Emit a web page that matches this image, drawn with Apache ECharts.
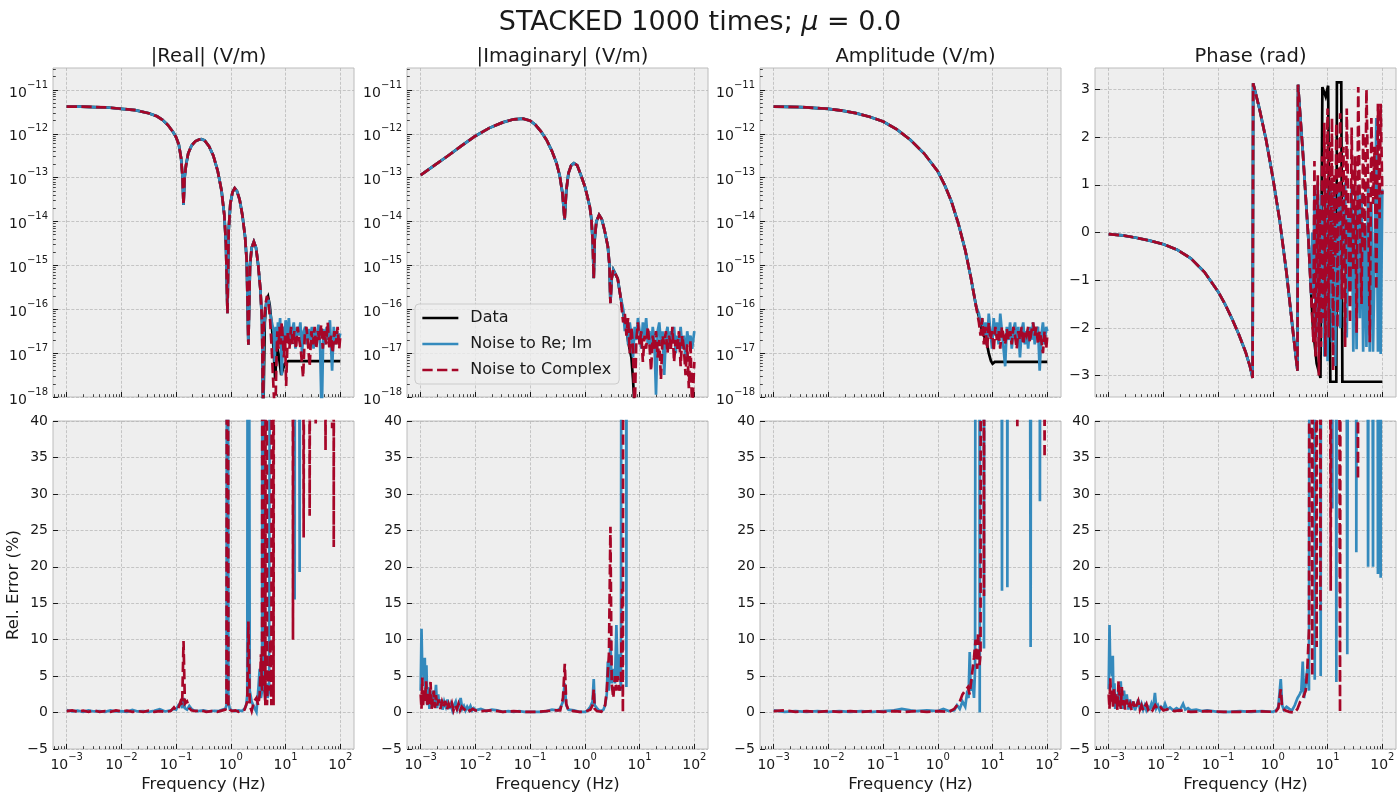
<!DOCTYPE html>
<html><head><meta charset="utf-8">
<script src="https://cdn.jsdelivr.net/npm/echarts@6/dist/echarts.min.js"></script>
<style>html,body{margin:0;padding:0;background:#fff}#c{width:1400px;height:800px}</style>
</head><body><div id="c"></div>
<script>
// ---------------- DATA (x = log10 frequency in Hz) ----------------
const panelTitles = ['|Real| (V/m)', '|Imaginary| (V/m)', 'Amplitude (V/m)', 'Phase (rad)'];
const seriesNames = ['Data', 'Noise to Re; Im', 'Noise to Complex'];
const freqTicks = [-3, -2, -1, 0, 1, 2];
const logYTicks = [-18, -17, -16, -15, -14, -13, -12, -11];
const phaseTicks = [-3, -2, -1, 0, 1, 2, 3];
const errTicks = [-5, 0, 5, 10, 15, 20, 25, 30, 35, 40];

// |Real| : log10(V/m)
const realData = [[-3.00,-11.38],[-2.75,-11.38],[-2.50,-11.39],[-2.25,-11.40],[-2.00,-11.43],[-1.75,-11.46],[-1.50,-11.53],[-1.35,-11.60],[-1.25,-11.68],[-1.15,-11.80],[-1.05,-11.97],[-1.00,-12.08],[-0.95,-12.25],[-0.91,-12.55],[-0.885,-12.95],[-0.865,-13.62],[-0.845,-13.0],[-0.82,-12.72],[-0.78,-12.45],[-0.72,-12.27],[-0.65,-12.17],[-0.58,-12.13],[-0.54,-12.12],[-0.48,-12.15],[-0.40,-12.28],[-0.32,-12.50],[-0.24,-12.85],[-0.17,-13.30],[-0.12,-13.85],[-0.09,-14.5],[-0.062,-16.09],[-0.04,-14.2],[-0.01,-13.6],[0.03,-13.33],[0.07,-13.24],[0.11,-13.30],[0.16,-13.5],[0.21,-13.85],[0.26,-14.35],[0.29,-14.9],[0.32,-16.81],[0.35,-15.0],[0.38,-14.6],[0.42,-14.46],[0.46,-14.6],[0.50,-15.0],[0.54,-15.55],[0.57,-16.3],[0.59,-18.6],[0.62,-16.3],[0.65,-15.8],[0.68,-15.71],[0.71,-15.9],[0.75,-16.4],[0.78,-16.9],[0.81,-17.6],[0.84,-16.85],[0.87,-17.0],[0.92,-17.5],[0.98,-17.25],[1.05,-17.18],[2.00,-17.18]];
const realReImTail = [[0.60,-16.6],[0.63,-16.0],[0.66,-15.75],[0.69,-15.8],[0.72,-16.1],[0.75,-16.3],[0.78,-16.5],[0.80,-17.2],[0.82,-16.4],[0.84,-16.9],[0.86,-16.3],[0.88,-16.6],[0.90,-16.2],[0.93,-17.5],[0.96,-16.4],[0.98,-16.9],[1.00,-16.25],[1.03,-16.6],[1.06,-16.2],[1.09,-16.8],[1.12,-16.5],[1.15,-16.3],[1.18,-16.9],[1.21,-16.4],[1.24,-16.6],[1.27,-16.3],[1.30,-17.0],[1.33,-16.5],[1.36,-16.4],[1.39,-16.8],[1.42,-16.45],[1.45,-16.7],[1.48,-16.4],[1.51,-16.9],[1.54,-16.5],[1.57,-16.6],[1.60,-16.35],[1.63,-16.8],[1.66,-18.5],[1.69,-16.45],[1.72,-16.8],[1.75,-16.4],[1.78,-16.7],[1.81,-16.25],[1.85,-17.4],[1.88,-16.4],[1.91,-16.8],[1.94,-16.5],[1.97,-16.7],[2.00,-16.55]];
const realCplxTail = [[0.60,-16.4],[0.63,-15.9],[0.66,-15.7],[0.69,-15.85],[0.72,-16.3],[0.75,-17.0],[0.78,-17.8],[0.81,-18.6],[0.83,-17.3],[0.85,-16.5],[0.87,-16.9],[0.89,-16.4],[0.91,-16.8],[0.93,-16.3],[0.95,-16.7],[0.97,-17.1],[0.99,-16.6],[1.01,-17.75],[1.04,-16.5],[1.07,-16.9],[1.10,-16.4],[1.13,-16.8],[1.16,-16.5],[1.19,-16.9],[1.22,-16.4],[1.25,-16.7],[1.28,-16.95],[1.32,-17.55],[1.35,-16.6],[1.38,-16.4],[1.41,-16.8],[1.44,-17.3],[1.47,-16.5],[1.50,-16.8],[1.53,-16.4],[1.56,-16.9],[1.59,-16.5],[1.62,-16.7],[1.65,-16.35],[1.68,-16.9],[1.71,-16.5],[1.74,-16.8],[1.77,-16.3],[1.80,-16.9],[1.83,-16.6],[1.86,-17.0],[1.89,-16.5],[1.92,-16.8],[1.95,-16.4],[1.98,-16.9],[2.00,-16.6]];

// |Imaginary| : log10(V/m)
const imagData = [[-3.00,-12.94],[-2.75,-12.72],[-2.50,-12.50],[-2.25,-12.27],[-2.00,-12.05],[-1.75,-11.87],[-1.50,-11.74],[-1.30,-11.67],[-1.13,-11.655],[-1.00,-11.70],[-0.90,-11.80],[-0.80,-11.95],[-0.70,-12.14],[-0.60,-12.40],[-0.52,-12.66],[-0.46,-12.95],[-0.41,-13.35],[-0.37,-13.96],[-0.34,-13.3],[-0.30,-12.9],[-0.25,-12.72],[-0.20,-12.67],[-0.14,-12.72],[-0.07,-12.95],[0.00,-13.2],[0.05,-13.45],[0.09,-13.66],[0.12,-13.95],[0.145,-14.5],[0.162,-15.29],[0.18,-14.4],[0.21,-14.0],[0.26,-13.85],[0.31,-13.95],[0.36,-14.2],[0.42,-14.57],[0.45,-15.0],[0.467,-15.86],[0.49,-15.3],[0.52,-15.1],[0.55,-15.07],[0.60,-15.3],[0.65,-15.7],[0.70,-16.09],[0.75,-16.4],[0.80,-16.8],[0.85,-17.1],[0.88,-17.6],[0.91,-18.3],[0.93,-19.5],[2.00,-19.5]];
const imagReImTail = [[0.70,-16.0],[0.73,-16.5],[0.76,-16.2],[0.79,-16.8],[0.82,-16.3],[0.85,-16.6],[0.88,-17.1],[0.91,-16.4],[0.94,-16.7],[0.97,-16.2],[1.00,-16.5],[1.03,-16.9],[1.06,-16.3],[1.09,-16.6],[1.12,-16.2],[1.15,-16.8],[1.18,-16.5],[1.21,-17.0],[1.24,-16.4],[1.27,-16.7],[1.30,-17.95],[1.33,-16.5],[1.36,-16.3],[1.39,-16.8],[1.42,-16.5],[1.45,-17.5],[1.48,-16.6],[1.51,-16.4],[1.54,-16.9],[1.57,-16.5],[1.60,-16.7],[1.63,-16.4],[1.66,-17.0],[1.69,-16.6],[1.72,-16.8],[1.75,-16.4],[1.78,-16.9],[1.81,-16.6],[1.84,-17.2],[1.87,-16.5],[1.90,-16.8],[1.93,-16.6],[1.96,-16.9],[2.00,-16.5]];
const imagCplxTail = [[0.70,-16.3],[0.73,-16.1],[0.76,-16.6],[0.79,-16.2],[0.82,-17.0],[0.85,-16.4],[0.88,-16.9],[0.91,-18.4],[0.94,-16.7],[0.97,-16.3],[1.00,-16.8],[1.03,-16.5],[1.06,-17.2],[1.09,-16.6],[1.12,-16.9],[1.15,-16.4],[1.18,-16.8],[1.21,-17.4],[1.24,-16.6],[1.27,-16.9],[1.30,-16.5],[1.33,-17.1],[1.36,-16.7],[1.39,-17.6],[1.42,-16.6],[1.45,-16.8],[1.48,-16.5],[1.51,-17.0],[1.54,-16.6],[1.57,-16.9],[1.60,-16.4],[1.63,-17.2],[1.66,-16.7],[1.69,-16.9],[1.72,-16.5],[1.75,-17.3],[1.78,-16.6],[1.81,-16.9],[1.84,-17.5],[1.87,-16.8],[1.90,-17.8],[1.93,-16.7],[1.96,-18.4],[2.00,-17.2]];

// Amplitude : log10(V/m)
const ampData = [[-3.00,-11.38],[-2.50,-11.39],[-2.00,-11.43],[-1.75,-11.47],[-1.50,-11.53],[-1.25,-11.61],[-1.00,-11.72],[-0.75,-11.90],[-0.50,-12.14],[-0.25,-12.45],[0.00,-12.86],[0.125,-13.17],[0.25,-13.55],[0.375,-14.05],[0.50,-14.65],[0.60,-15.26],[0.70,-15.94],[0.75,-16.17],[0.80,-16.45],[0.85,-16.62],[0.89,-16.75],[0.93,-17.0],[0.97,-17.18],[1.00,-17.24],[1.04,-17.2],[2.00,-17.2]];
const ampReImTail = [[0.75,-16.1],[0.78,-16.3],[0.81,-16.2],[0.84,-16.6],[0.87,-16.3],[0.90,-16.8],[0.93,-16.1],[0.96,-16.5],[0.99,-16.9],[1.02,-16.2],[1.05,-16.6],[1.08,-16.3],[1.11,-16.8],[1.14,-16.1],[1.17,-16.5],[1.20,-16.9],[1.23,-17.3],[1.26,-16.4],[1.29,-16.7],[1.32,-16.3],[1.35,-16.9],[1.38,-16.5],[1.41,-16.3],[1.44,-16.8],[1.47,-16.4],[1.50,-17.1],[1.53,-16.5],[1.56,-16.3],[1.59,-16.8],[1.62,-16.5],[1.65,-16.9],[1.68,-16.4],[1.71,-16.7],[1.74,-16.3],[1.77,-16.8],[1.80,-16.5],[1.83,-16.4],[1.86,-17.4],[1.89,-16.6],[1.92,-16.3],[1.95,-16.8],[1.98,-16.4],[2.00,-16.5]];
const ampCplxTail = [[0.75,-16.3],[0.78,-16.6],[0.81,-16.2],[0.84,-16.8],[0.87,-16.4],[0.90,-16.9],[0.93,-16.3],[0.96,-16.7],[0.99,-16.5],[1.02,-16.95],[1.05,-16.4],[1.08,-16.7],[1.11,-16.5],[1.14,-16.9],[1.17,-16.4],[1.20,-16.6],[1.23,-16.8],[1.26,-16.45],[1.29,-16.7],[1.32,-16.5],[1.35,-16.8],[1.38,-16.4],[1.41,-16.6],[1.44,-16.9],[1.47,-16.5],[1.50,-16.7],[1.53,-16.4],[1.56,-16.8],[1.59,-16.5],[1.62,-16.6],[1.65,-16.4],[1.68,-16.75],[1.71,-16.5],[1.74,-16.3],[1.77,-16.6],[1.80,-16.4],[1.83,-16.8],[1.86,-16.5],[1.89,-16.7],[1.92,-17.0],[1.95,-16.5],[1.98,-16.9],[2.00,-16.6]];

// Phase (rad)
const phaseData = [[-3.00,-0.035],[-2.75,-0.06],[-2.50,-0.11],[-2.25,-0.17],[-2.00,-0.245],[-1.75,-0.36],[-1.50,-0.54],[-1.25,-0.83],[-1.00,-1.24],[-0.875,-1.50],[-0.75,-1.80],[-0.625,-2.13],[-0.50,-2.50],[-0.42,-2.80],[-0.37,-3.05],[-0.36,3.13],[-0.25,2.62],[-0.125,1.95],[0.00,1.15],[0.125,0.25],[0.25,-0.85],[0.375,-2.15],[0.45,-2.90],[0.46,3.10],[0.55,1.65],[0.65,-0.15],[0.73,-1.95],[0.80,-2.75],[0.87,-3.05],[0.905,3.05],[0.965,2.85],[1.01,3.08],[1.04,3.08],[1.05,-3.13],[1.16,-3.13],[1.17,3.15],[1.25,3.15],[1.27,-3.13],[2.00,-3.13]];
const phaseReImTail = [[0.70,-1.3],[0.72,0.0],[0.74,-1.2],[0.76,0.9],[0.78,-2.2],[0.80,-0.6],[0.82,1.05],[0.84,-2.5],[0.86,-0.3],[0.88,0.8],[0.90,-1.9],[0.92,0.4],[0.94,-2.6],[0.96,0.95],[0.98,-1.0],[1.00,-2.7],[1.02,0.6],[1.04,-1.6],[1.06,1.0],[1.08,-2.3],[1.10,-0.4],[1.12,0.9],[1.14,-2.8],[1.16,0.2],[1.18,-1.5],[1.20,1.0],[1.23,-2.0],[1.26,0.7],[1.29,-0.8],[1.32,1.05],[1.35,-2.2],[1.38,0.3],[1.41,-1.2],[1.44,0.95],[1.47,-2.5],[1.50,0.5],[1.53,-2.45],[1.56,1.0],[1.59,-1.8],[1.62,0.8],[1.65,-2.5],[1.68,0.2],[1.71,-2.4],[1.74,1.0],[1.77,-2.5],[1.80,0.6],[1.83,-2.5],[1.86,-0.5],[1.89,2.4],[1.92,-2.5],[1.95,0.9],[1.97,-2.55],[2.00,0.9]];
const phaseCplxTail = [[0.72,-1.8],[0.74,-2.3],[0.76,1.5],[0.78,-2.6],[0.80,-0.5],[0.82,1.2],[0.84,-3.0],[0.86,0.5],[0.88,-2.4],[0.90,1.6],[0.92,-1.8],[0.94,2.3],[0.96,-2.6],[0.98,0.8],[1.00,2.6],[1.02,-2.2],[1.04,1.9],[1.06,-1.0],[1.08,2.4],[1.10,-2.9],[1.12,1.2],[1.14,-0.5],[1.16,2.3],[1.18,-2.0],[1.20,0.6],[1.23,2.5],[1.26,-1.4],[1.29,1.8],[1.32,-2.4],[1.35,2.6],[1.38,0.2],[1.41,-1.9],[1.44,2.2],[1.47,-0.8],[1.50,1.6],[1.53,-2.1],[1.56,3.05],[1.59,0.4],[1.62,-1.5],[1.65,2.1],[1.68,-0.4],[1.71,3.0],[1.74,1.0],[1.77,-2.3],[1.80,2.4],[1.83,0.6],[1.86,1.8],[1.89,-1.2],[1.92,2.7],[1.95,0.3],[1.97,2.7],[2.00,0.8]];

// Rel. Error (%) bottom row
const realErrReIm = [[-3.00,0.35],[-2.90,0.15],[-2.80,0.25],[-2.70,0.10],[-2.60,0.30],[-2.50,0.15],[-2.40,0.20],[-2.30,0.10],[-2.20,0.30],[-2.10,0.15],[-2.00,0.20],[-1.90,0.10],[-1.80,0.35],[-1.70,0.15],[-1.60,0.20],[-1.50,0.10],[-1.40,0.25],[-1.30,0.45],[-1.20,0.15],[-1.10,0.30],[-1.04,0.50],[-1.00,0.40],[-0.96,1.0],[-0.92,1.3],[-0.89,0.6],[-0.865,2.0],[-0.84,0.6],[-0.80,0.4],[-0.76,0.9],[-0.72,0.5],[-0.68,0.3],[-0.60,0.2],[-0.50,0.3],[-0.40,0.15],[-0.30,0.25],[-0.22,0.2],[-0.15,0.4],[-0.10,0.5],[-0.08,1.0],[-0.062,150],[-0.045,1.5],[-0.02,0.5],[0.02,0.3],[0.08,0.2],[0.14,0.3],[0.20,0.2],[0.25,0.5],[0.28,1.0],[0.30,2.5],[0.315,150],[0.33,150],[0.345,3],[0.38,1.5],[0.42,0.8],[0.467,0.1],[0.50,3],[0.527,6],[0.55,2],[0.57,3],[0.588,200],[0.61,3.5],[0.63,2],[0.649,4],[0.67,2],[0.70,3],[0.74,200],[0.76,100],[0.78,300],[0.80,150],[0.85,400],[0.90,200],[0.95,500],[1.00,300],[1.05,150],[1.10,400],[1.14,200],[1.166,15.5],[1.19,300],[1.23,150],[1.257,19.3],[1.28,250],[1.35,400],[1.45,200],[1.55,300],[1.65,500],[1.75,200],[1.85,300],[2.00,400]];
const realErrCplx = [[-3.00,0.20],[-2.90,0.30],[-2.80,0.10],[-2.70,0.25],[-2.60,0.10],[-2.50,0.30],[-2.40,0.10],[-2.30,0.20],[-2.20,0.10],[-2.10,0.30],[-2.00,0.15],[-1.90,0.25],[-1.80,0.10],[-1.70,0.20],[-1.60,0.10],[-1.50,0.25],[-1.40,0.10],[-1.30,0.20],[-1.20,0.10],[-1.10,0.20],[-1.04,0.70],[-1.00,0.30],[-0.96,0.6],[-0.92,1.5],[-0.89,1.0],[-0.865,9.8],[-0.84,1.2],[-0.80,1.5],[-0.76,0.6],[-0.72,0.3],[-0.65,0.2],[-0.55,0.3],[-0.45,0.1],[-0.35,0.2],[-0.25,0.1],[-0.15,0.3],[-0.10,0.4],[-0.08,0.8],[-0.062,150],[-0.045,0.8],[-0.02,0.4],[0.02,0.2],[0.08,0.3],[0.14,0.1],[0.20,0.3],[0.25,0.4],[0.30,1.5],[0.32,12.5],[0.345,1.0],[0.38,0.2],[0.42,1.5],[0.467,2.0],[0.50,1.0],[0.527,2.5],[0.55,8],[0.57,3],[0.588,200],[0.61,5],[0.63,1],[0.649,200],[0.66,1.0],[0.68,6],[0.70,3],[0.72,10],[0.74,1.0],[0.76,200],[0.78,1.0],[0.80,200],[0.85,300],[0.95,400],[1.05,300],[1.10,500],[1.135,10],[1.16,300],[1.25,400],[1.33,24],[1.38,300],[1.44,27],[1.50,400],[1.55,39.5],[1.62,300],[1.73,36],[1.80,300],[1.85,39],[1.865,300],[1.88,22.7],[1.90,300],[2.00,200]];
const imagErrReIm = [[-3.00,3.0],[-2.985,11.5],[-2.97,5.5],[-2.955,6.0],[-2.94,4.5],[-2.925,7.5],[-2.91,2.0],[-2.895,6.5],[-2.88,1.0],[-2.86,3.5],[-2.84,0.5],[-2.82,2.5],[-2.80,1.5],[-2.78,3.0],[-2.76,0.8],[-2.74,2.0],[-2.72,3.8],[-2.70,0.6],[-2.68,2.5],[-2.66,1.0],[-2.63,1.8],[-2.60,0.4],[-2.57,1.5],[-2.54,0.8],[-2.51,1.8],[-2.48,0.5],[-2.45,1.2],[-2.42,0.3],[-2.39,1.0],[-2.36,1.5],[-2.33,0.4],[-2.30,1.0],[-2.27,2.0],[-2.24,0.5],[-2.21,0.9],[-2.18,0.3],[-2.15,0.8],[-2.12,0.4],[-2.09,0.9],[-2.06,0.3],[-2.03,0.6],[-2.00,0.3],[-1.90,0.5],[-1.80,0.2],[-1.70,0.4],[-1.60,0.3],[-1.50,0.1],[-1.40,0.2],[-1.30,0.1],[-1.20,0.2],[-1.10,0.1],[-1.00,0.1],[-0.90,0.1],[-0.80,0.1],[-0.70,0.2],[-0.60,0.4],[-0.50,0.3],[-0.45,0.6],[-0.40,1.5],[-0.37,4.0],[-0.34,1.0],[-0.30,0.4],[-0.20,0.3],[-0.10,0.1],[0.00,0.1],[0.05,0.3],[0.10,0.8],[0.14,1.5],[0.162,4.6],[0.18,1.0],[0.22,0.6],[0.26,0.3],[0.30,0.2],[0.34,0.4],[0.37,1.0],[0.40,2.5],[0.42,7],[0.44,3],[0.467,10],[0.49,4],[0.52,6],[0.55,4],[0.576,12],[0.60,5],[0.63,8],[0.66,3],[0.68,200],[0.71,150],[0.74,300],[0.759,3.5],[0.78,400],[0.85,300],[1.00,500],[1.20,400],[1.50,500],[1.80,400],[2.00,500]];
const imagErrCplx = [[-3.00,2.5],[-2.985,0.5],[-2.97,4.8],[-2.955,1.0],[-2.94,3.0],[-2.92,1.5],[-2.90,4.3],[-2.88,0.8],[-2.86,2.8],[-2.84,1.2],[-2.82,4.2],[-2.80,0.5],[-2.78,2.0],[-2.76,3.0],[-2.74,0.6],[-2.72,2.4],[-2.70,1.0],[-2.67,1.8],[-2.64,0.5],[-2.61,1.5],[-2.58,0.8],[-2.55,1.6],[-2.52,0.4],[-2.49,1.2],[-2.46,0.6],[-2.43,1.3],[-2.40,0.3],[-2.37,1.0],[-2.34,0.5],[-2.31,1.2],[-2.28,0.3],[-2.25,0.8],[-2.20,0.4],[-2.15,0.7],[-2.10,0.2],[-2.05,0.5],[-2.00,0.3],[-1.90,0.2],[-1.70,0.3],[-1.50,0.1],[-1.30,0.2],[-1.10,0.1],[-0.90,0.1],[-0.70,0.2],[-0.55,0.3],[-0.45,0.3],[-0.40,2.0],[-0.367,6.7],[-0.34,1.2],[-0.30,0.3],[-0.20,0.2],[-0.10,0.1],[0.00,0.1],[0.10,0.4],[0.14,1.0],[0.162,3.2],[0.18,0.5],[0.22,0.2],[0.30,0.1],[0.37,1.0],[0.40,3.0],[0.44,8],[0.467,25.5],[0.49,4],[0.52,2],[0.55,5],[0.576,3],[0.60,5],[0.63,3],[0.66,4],[0.68,17],[0.695,0.0],[0.71,200],[0.74,300],[0.85,400],[1.00,300],[1.30,500],[1.60,300],[2.00,400]];
const ampErrReIm = [[-3.00,0.3],[-2.80,0.1],[-2.60,0.2],[-2.40,0.1],[-2.20,0.2],[-2.00,0.1],[-1.80,0.2],[-1.60,0.1],[-1.40,0.2],[-1.20,0.1],[-1.00,0.2],[-0.80,0.3],[-0.66,0.5],[-0.50,0.3],[-0.40,0.2],[-0.20,0.3],[0.00,0.2],[0.10,0.5],[0.20,0.2],[0.30,0.3],[0.35,1.0],[0.40,0.5],[0.45,1.5],[0.50,0.8],[0.53,2.5],[0.56,2.0],[0.582,8.3],[0.60,3.0],[0.63,4.5],[0.66,2.0],[0.68,6],[0.704,200],[0.72,150],[0.74,300],[0.765,0.0],[0.78,200],[0.81,300],[0.843,8.8],[0.87,400],[0.95,300],[1.05,500],[1.12,300],[1.172,16.7],[1.20,400],[1.24,300],[1.27,17.2],[1.30,300],[1.40,500],[1.50,300],[1.60,400],[1.695,9.0],[1.75,400],[1.82,300],[1.865,29],[1.90,300],[2.00,500]];
const ampErrCplx = [[-3.00,0.2],[-2.80,0.3],[-2.60,0.1],[-2.40,0.2],[-2.20,0.1],[-2.00,0.2],[-1.80,0.1],[-1.60,0.2],[-1.40,0.1],[-1.20,0.2],[-1.00,0.1],[-0.80,0.2],[-0.60,0.1],[-0.40,0.2],[-0.20,0.1],[0.00,0.2],[0.20,0.1],[0.30,0.5],[0.40,1.5],[0.45,2.5],[0.50,3.0],[0.55,3.5],[0.58,2.5],[0.62,5],[0.66,7.5],[0.69,10],[0.72,6],[0.734,11],[0.76,6.5],[0.78,8],[0.795,200],[0.82,300],[0.843,16],[0.87,300],[1.00,400],[1.20,300],[1.40,250],[1.452,39],[1.50,300],[1.70,400],[1.90,300],[1.95,35],[2.00,300]];
const phaseErrReIm = [[-3.00,3.2],[-2.985,12.0],[-2.97,5.5],[-2.955,6.0],[-2.94,5.0],[-2.925,7.8],[-2.91,1.0],[-2.895,4.0],[-2.88,0.5],[-2.86,2.5],[-2.84,1.0],[-2.82,3.5],[-2.80,0.8],[-2.78,4.3],[-2.76,1.5],[-2.74,0.5],[-2.72,3.0],[-2.70,1.2],[-2.67,2.5],[-2.64,0.4],[-2.61,1.8],[-2.58,0.6],[-2.55,1.5],[-2.52,0.3],[-2.49,1.0],[-2.46,1.8],[-2.43,0.5],[-2.40,1.2],[-2.37,0.4],[-2.34,1.0],[-2.31,0.3],[-2.28,0.8],[-2.25,0.5],[-2.22,1.2],[-2.19,0.4],[-2.155,2.7],[-2.13,0.6],[-2.10,1.0],[-2.07,0.3],[-2.04,0.8],[-2.00,0.5],[-1.97,1.2],[-1.93,0.4],[-1.88,0.7],[-1.82,0.3],[-1.76,0.6],[-1.70,0.3],[-1.64,1.2],[-1.60,0.4],[-1.55,0.6],[-1.50,0.3],[-1.40,0.4],[-1.30,0.2],[-1.20,0.3],[-1.10,0.2],[-1.00,0.1],[-0.80,0.1],[-0.60,0.2],[-0.40,0.1],[-0.20,0.2],[0.00,0.1],[0.06,0.3],[0.10,0.8],[0.144,4.6],[0.17,1.0],[0.20,0.4],[0.25,0.8],[0.30,0.5],[0.35,0.3],[0.40,1.0],[0.45,2.0],[0.49,2.5],[0.52,3],[0.546,7],[0.57,2],[0.60,4],[0.63,6],[0.66,3],[0.686,200],[0.72,300],[0.765,4.5],[0.80,300],[0.84,200],[0.874,5],[0.91,400],[0.96,300],[1.02,500],[1.087,28],[1.12,300],[1.16,4.2],[1.20,400],[1.28,300],[1.36,8],[1.42,300],[1.48,400],[1.525,22],[1.57,300],[1.65,400],[1.74,20],[1.78,200],[1.83,20],[1.88,300],[1.92,19],[1.95,200],[1.97,18.5],[2.00,300]];
const phaseErrCplx = [[-3.00,2.5],[-2.985,0.5],[-2.97,4.7],[-2.955,1.5],[-2.94,3.0],[-2.92,0.8],[-2.90,3.3],[-2.88,1.0],[-2.86,2.5],[-2.84,0.3],[-2.82,4.3],[-2.80,2.0],[-2.78,0.5],[-2.76,3.5],[-2.74,1.0],[-2.72,2.0],[-2.70,0.4],[-2.67,1.8],[-2.64,0.6],[-2.61,1.2],[-2.58,0.3],[-2.55,1.5],[-2.52,0.5],[-2.49,1.0],[-2.46,1.6],[-2.43,0.4],[-2.40,1.0],[-2.37,0.3],[-2.34,0.8],[-2.31,1.2],[-2.28,0.4],[-2.25,0.7],[-2.20,0.3],[-2.15,1.0],[-2.10,0.4],[-2.05,0.7],[-2.00,0.3],[-1.90,0.5],[-1.80,0.2],[-1.70,0.3],[-1.60,0.2],[-1.50,0.1],[-1.20,0.2],[-0.90,0.1],[-0.60,0.1],[-0.30,0.2],[0.00,0.1],[0.06,0.2],[0.10,0.6],[0.144,3.2],[0.17,0.6],[0.22,0.3],[0.30,0.1],[0.40,0.0],[0.45,0.5],[0.50,1.5],[0.55,2.0],[0.60,3.0],[0.63,6],[0.661,11.5],[0.68,200],[0.72,5],[0.75,200],[0.80,9],[0.83,300],[0.87,14],[0.90,200],[0.95,300],[1.00,200],[1.057,16.7],[1.10,300],[1.18,200],[1.227,0.0],[1.27,300],[1.35,200],[1.45,400],[1.555,32],[1.60,300],[1.80,400],[2.00,300]];

// ---------------- CHART ----------------
const FONT = 'DejaVu Sans';
const COLORS = ['#000000', '#348ABD', '#A60628'];
const GRID_BG = '#eeeeee', SPINE = '#bcbcbc', GRIDLINE = '#b2b2b2', TXT = '#1a1a1a';
const COL_LEFT = [53, 407, 760, 1095], COL_W = 301;
const ROW_TOP = [68, 421], ROW_H = [329, 328];
const X_MIN = -3.25, X_MAX = 2.25;
const LW = 2.7, DASH = [10.3, 4.4];

function withHead(head, tail) { const t0 = tail[0][0]; return head.filter(p => p[0] < t0).concat(tail); }
function minorLog(lo, hi) {
  const out = [];
  for (let n = Math.floor(lo) - 1; n <= Math.ceil(hi); n++)
    for (let k = 2; k <= 9; k++) { const v = n + Math.log10(k); if (v > lo + 1e-9 && v < hi - 1e-9) out.push(v); }
  return out;
}
const minus = s => String(s).replace('-', '\u2212');
const supFmt = v => '{b|10}{s|' + minus(Math.round(v)) + '}';
const richSup = {
  b: { fontSize: 14, fontFamily: FONT, color: TXT, lineHeight: 20, verticalAlign: 'bottom' },
  s: { fontSize: 10, fontFamily: FONT, color: TXT, lineHeight: 10, verticalAlign: 'top' }
};
const splitStyle = { show: true, lineStyle: { color: GRIDLINE, width: 0.7, type: [3, 1.6] } };

const panels = [
  { y: 'log', data: realData, reim: realReImTail, cplx: realCplxTail, errReIm: realErrReIm, errCplx: realErrCplx },
  { y: 'log', data: imagData, reim: imagReImTail, cplx: imagCplxTail, errReIm: imagErrReIm, errCplx: imagErrCplx },
  { y: 'log', data: ampData, reim: ampReImTail, cplx: ampCplxTail, errReIm: ampErrReIm, errCplx: ampErrCplx },
  { y: 'phase', data: phaseData, reim: phaseReImTail, cplx: phaseCplxTail, errReIm: phaseErrReIm, errCplx: phaseErrCplx }
];

const grids = [], xAxes = [], yAxes = [], series = [];
const xMinor = minorLog(X_MIN, X_MAX);
const yMinorLog = minorLog(-18, -10.5);

for (let row = 0; row < 2; row++) {
  for (let col = 0; col < 4; col++) {
    const gi = row * 4 + col;
    grids.push({ left: COL_LEFT[col], top: ROW_TOP[row], width: COL_W, height: ROW_H[row], show: true,
      backgroundColor: GRID_BG, borderColor: SPINE, borderWidth: 1, containLabel: false });
    xAxes.push({ type: 'value', gridIndex: gi, min: X_MIN, max: X_MAX, position: 'bottom',
      axisLine: { show: false, onZero: false },
      axisTick: { show: true, inside: true, length: 5, lineStyle: { color: TXT, width: 1 }, customValues: freqTicks },
      axisLabel: { show: row === 1, customValues: freqTicks, formatter: supFmt, rich: richSup, margin: 3 },
      splitLine: splitStyle,
      name: row === 1 ? 'Frequency (Hz)' : '', nameLocation: 'middle', nameGap: 27,
      nameTextStyle: { fontSize: 16.5, fontFamily: FONT, color: TXT } });
    xAxes.push({ type: 'value', gridIndex: gi, min: X_MIN, max: X_MAX, position: 'bottom',
      axisLine: { show: false, onZero: false },
      axisTick: { show: true, inside: true, length: 2.8, lineStyle: { color: TXT, width: 0.8 }, customValues: xMinor },
      axisLabel: { show: false }, splitLine: { show: false } });
    let ymin, ymax, yt, fmt, rich, minor = null;
    if (row === 1) { ymin = -5; ymax = 40; yt = errTicks; fmt = v => minus(v); }
    else if (panels[col].y === 'log') { ymin = -18; ymax = -10.5; yt = logYTicks; fmt = supFmt; rich = richSup; minor = yMinorLog; }
    else { ymin = -3.45; ymax = 3.45; yt = phaseTicks; fmt = v => minus(v); }
    yAxes.push({ type: 'value', gridIndex: gi, min: ymin, max: ymax, position: 'left',
      axisLine: { show: false, onZero: false },
      axisTick: { show: true, inside: true, length: 5, lineStyle: { color: TXT, width: 1 }, customValues: yt },
      axisLabel: { show: true, customValues: yt, formatter: fmt, rich: rich, margin: 5,
        fontSize: 14, fontFamily: FONT, color: TXT },
      splitLine: splitStyle,
      name: (row === 1 && col === 0) ? 'Rel. Error (%)' : '', nameLocation: 'middle', nameGap: 31, nameRotate: 90,
      nameTextStyle: { fontSize: 16.5, fontFamily: FONT, color: TXT } });
    yAxes.push({ type: 'value', gridIndex: gi, min: ymin, max: ymax, position: 'left', show: !!minor,
      axisLine: { show: false, onZero: false },
      axisTick: { show: !!minor, inside: true, length: 2.8, lineStyle: { color: TXT, width: 0.8 }, customValues: minor || [] },
      axisLabel: { show: false }, splitLine: { show: false } });

    const P = panels[col];
    const mk = (name, ci, data, dashed, z) => ({
      type: 'line', name: name, xAxisIndex: 2 * gi, yAxisIndex: 2 * gi, data: data,
      showSymbol: false, symbol: 'none', clip: true, z: z, animation: false,
      lineStyle: { color: COLORS[ci], width: LW, type: dashed ? DASH : 'solid', cap: 'butt', join: 'miter', miterLimit: 4 },
      itemStyle: { color: COLORS[ci] }, emphasis: { disabled: true }
    });
    if (row === 0) {
      series.push(mk(seriesNames[0], 0, P.data, false, 2));
      series.push(mk(seriesNames[1], 1, withHead(P.data, P.reim), false, 3));
      series.push(mk(seriesNames[2], 2, withHead(P.data, P.cplx), true, 4));
    } else {
      series.push(mk(seriesNames[1], 1, P.errReIm, false, 3));
      series.push(mk(seriesNames[2], 2, P.errCplx, true, 4));
    }
  }
}

const titles = [{
  text: '{n|STACKED 1000 times; }{m|\u03bc}{n| = 0.0}', left: 'center', top: 4,
  textStyle: { fontWeight: 'normal', rich: {
    n: { fontSize: 27, fontWeight: 'normal', fontFamily: FONT, color: TXT },
    m: { fontSize: 27, fontWeight: 'normal', fontFamily: FONT, fontStyle: 'italic', color: TXT } } }
}];
panelTitles.forEach((t, i) => titles.push({ text: t, left: COL_LEFT[i] + COL_W / 2, top: 42, textAlign: 'center',
  textStyle: { fontSize: 19.5, fontWeight: 'normal', fontFamily: FONT, color: TXT } }));

const chart = echarts.init(document.getElementById('c'), null, { renderer: 'canvas' });
chart.setOption({
  animation: false,
  backgroundColor: '#ffffff',
  textStyle: { fontFamily: FONT },
  title: titles,
  legend: {
    data: seriesNames, orient: 'vertical', left: 415, top: 304, padding: [6, 8, 6, 6], itemGap: 10,
    itemWidth: 36, itemHeight: 14, backgroundColor: 'rgba(238,238,238,0.8)', borderColor: '#cccccc', borderWidth: 1, borderRadius: 4,
    itemStyle: { opacity: 0 },
    lineStyle: { width: LW },
    textStyle: { fontSize: 16, fontFamily: FONT, color: TXT, padding: [0, 0, 0, 7] }, selectedMode: false
  },
  grid: grids, xAxis: xAxes, yAxis: yAxes, series: series
});
</script></body></html>
